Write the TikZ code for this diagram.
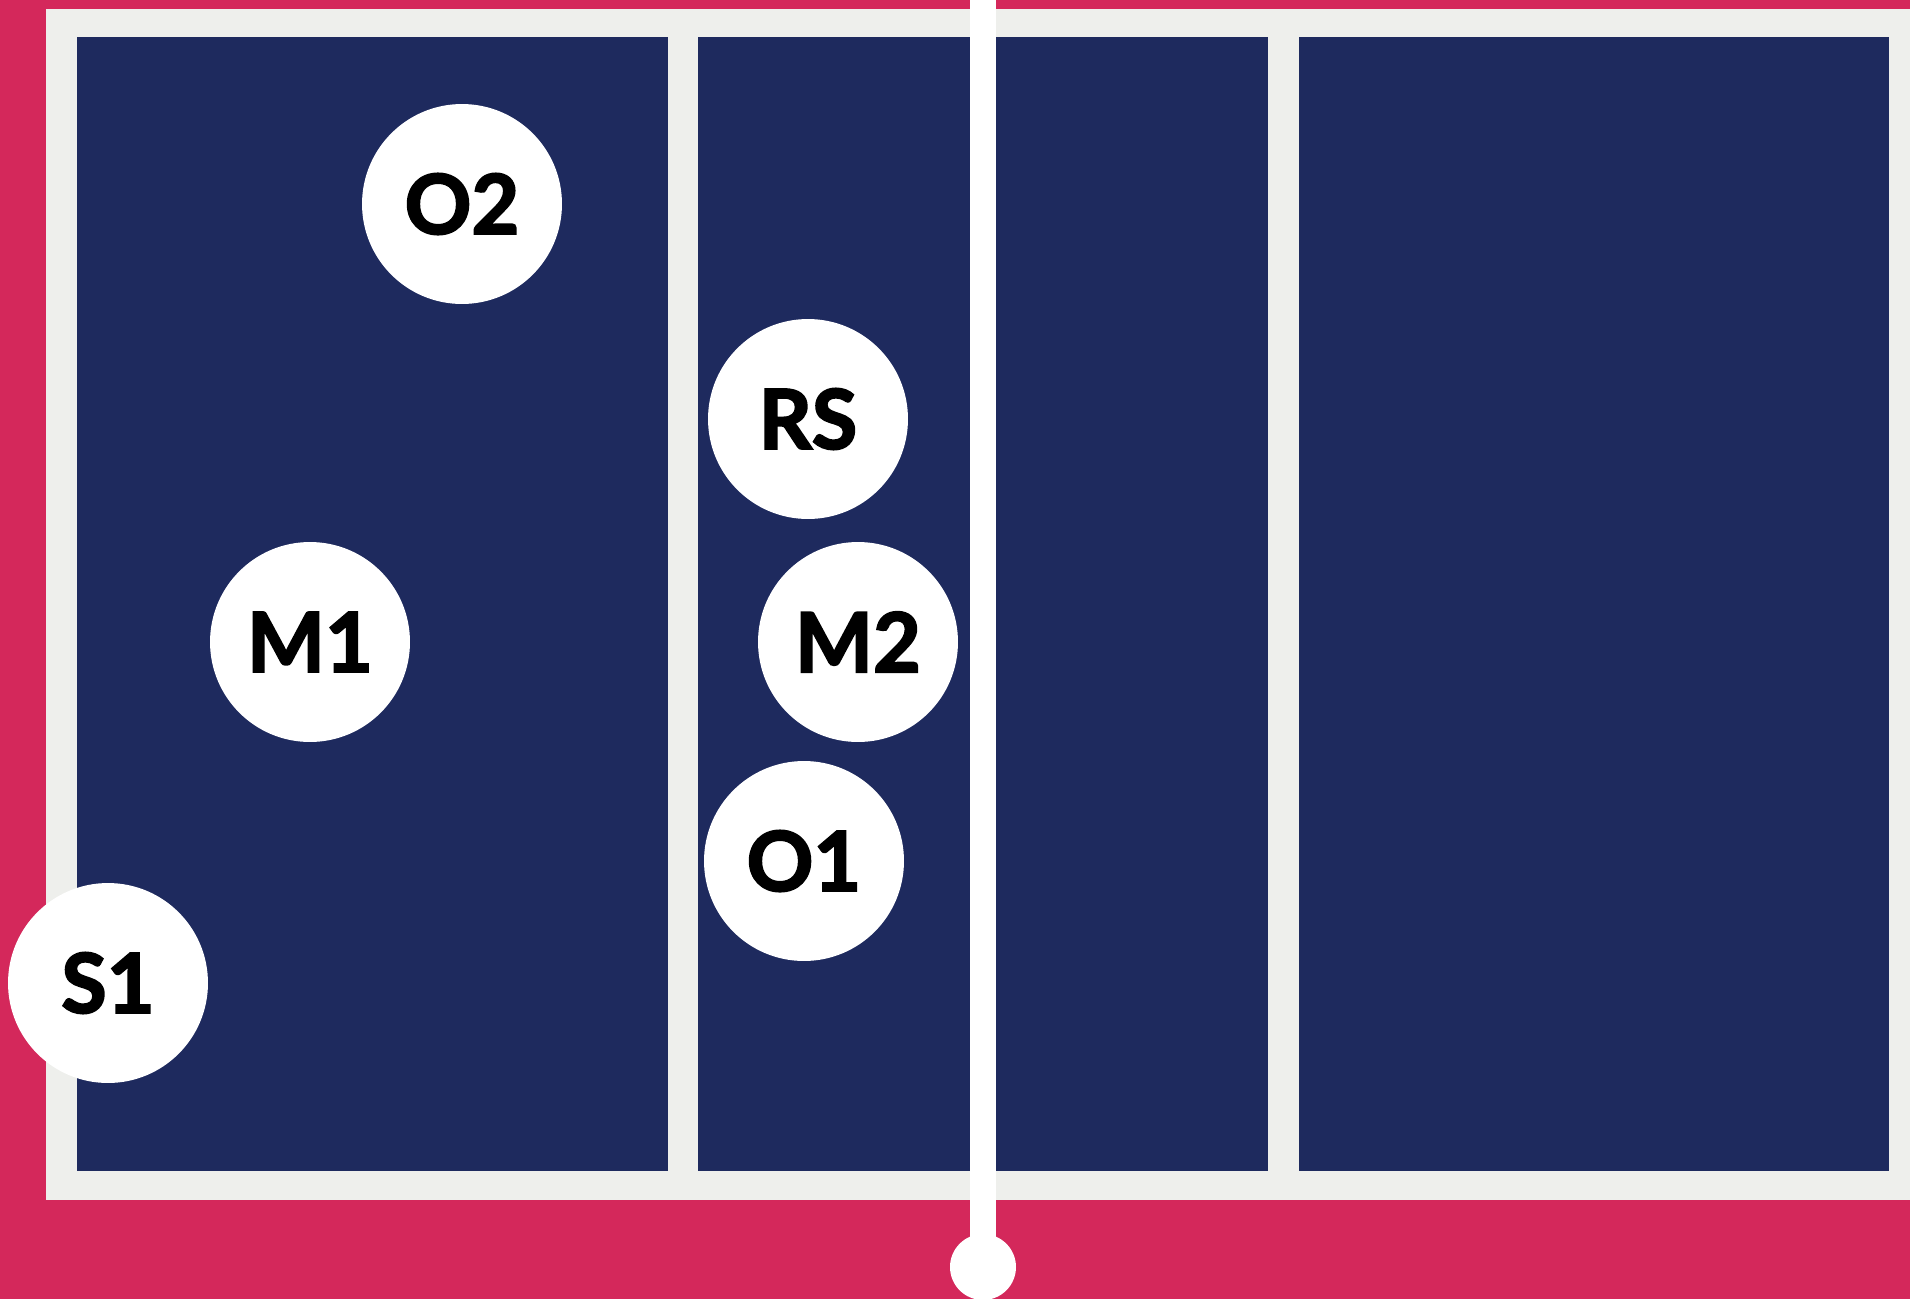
\documentclass[tikz,border=0pt]{standalone}
\usepackage{fontspec}
\setmainfont{Lato}
\newfontfamily\playerfont{Lato}[BoldFeatures={FakeBold=2.5}]
\usetikzlibrary{positioning, calc}

\begin{document}
\begin{tikzpicture}[
    x=0.02cm, y=-0.02cm,
    player/.style={
        circle, fill=white, text=black, inner sep=0pt,
        minimum size=4cm, font=\playerfont\fontsize{47}{47}\selectfont\bfseries
    },
    panel/.style={
        fill=navy, draw=none
    },
    netline/.style={
        line width=0.52cm, draw=white
    },
]

\definecolor{pinkbg}{RGB}{212,40,91}
\definecolor{navy}{RGB}{30,42,94}
\definecolor{framegray}{RGB}{238,239,236}

\useasboundingbox (0,0) rectangle (1910,1299);

% ============================================================
% Court
% ============================================================

\fill[pinkbg] (0,0) rectangle (1910,1299);
\fill[framegray] (46,9) rectangle (1910,1200);

\fill[panel] (77,37) rectangle (668,1171);
\fill[panel] (698,37) rectangle (1268,1171);
\fill[panel] (1299,37) rectangle (1889,1171);

% Net with post
\coordinate (nettop) at (983,0);
\node[circle, fill=white, inner sep=0pt, minimum size=1.32cm] (post) at (983,1267) {};
\draw[netline] (nettop) -- (post.center);

% ============================================================
% Players
% ============================================================

\node[player] (o2) at (462,204) {O2};
\node[player] (rs) at (808,419) {RS};
\node[player] (m1) at (310,642) {M1};
\node[player] (m2) at (858,642) {M2};
\node[player] (o1) at (804,861) {O1};
\node[player] (s1) at (108,983) {S1};

\end{tikzpicture}
\end{document}
